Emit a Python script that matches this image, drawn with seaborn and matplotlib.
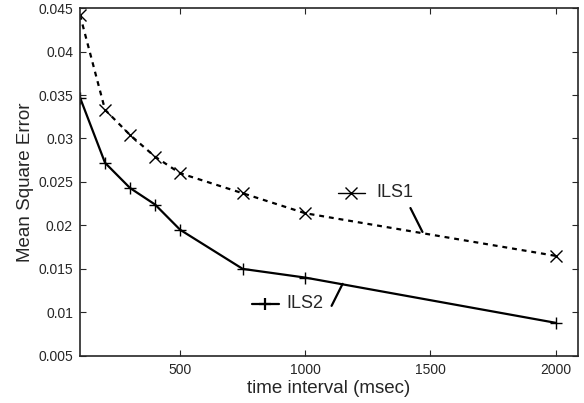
import matplotlib
matplotlib.use("Agg")
import matplotlib.pyplot as plt
import seaborn as sns
from matplotlib.lines import Line2D

# values
intervals = [100, 200, 300, 400, 500, 750, 1000, 2000]
ils1_mse = [0.0442, 0.0333, 0.0304, 0.0279, 0.0260, 0.0237, 0.0214, 0.0165]
ils2_mse = [0.0347, 0.0272, 0.0243, 0.0224, 0.0195, 0.0150, 0.0140, 0.0088]
x_ticks = [500, 1000, 1500, 2000]
y_ticks = [0.005, 0.01, 0.015, 0.02, 0.025, 0.03, 0.035, 0.04, 0.045]

sns.set_style('ticks')
plt.rcParams['font.family'] = ['Liberation Sans', 'DejaVu Sans']

fig = plt.figure(figsize=(5.84, 4.03), dpi=100)
ax = fig.add_axes([0.137, 0.117, 0.853, 0.863])

sns.lineplot(x=intervals, y=ils1_mse, ax=ax, color='k', linestyle=(0, (2.2, 2.2)),
             linewidth=1.6, marker='x', markersize=8, markeredgewidth=1.0,
             markeredgecolor='k')
sns.lineplot(x=intervals, y=ils2_mse, ax=ax, color='k', linestyle='-',
             linewidth=1.6, marker='+', markersize=9, markeredgewidth=1.0,
             markeredgecolor='k')

ax.set_xlim(100, 2090)
ax.set_ylim(0.005, 0.045)
ax.set_xticks(x_ticks)
ax.set_yticks(y_ticks)
ax.set_yticklabels(['%g' % v for v in y_ticks])
ax.tick_params(direction='in', length=4, width=0.8, top=True, right=True,
               labelsize=10, pad=5)
for s in ax.spines.values():
    s.set_linewidth(1.2)
    s.set_visible(True)

ax.set_xlabel('time interval (msec)', fontsize=13.5, labelpad=2)
ax.set_ylabel('Mean Square Error', fontsize=13.5, labelpad=3)

# MATLAB-style legend labels with pointer lines
ax.add_line(Line2D([1130, 1237], [0.02374, 0.02374], color='k', lw=1.0))
ax.plot([1183], [0.02374], 'kx', markersize=8, markeredgewidth=1.0)
ax.text(1285, 0.02374, 'ILS1', fontsize=13, va='center', ha='left')
ax.annotate('', xy=(1468, 0.01925), xytext=(1420, 0.0220),
            arrowprops=dict(arrowstyle='-', color='k', lw=1.6,
                            shrinkA=0, shrinkB=0))

ax.add_line(Line2D([787, 894], [0.0110, 0.0110], color='k', lw=1.6))
ax.plot([840], [0.0110], 'k+', markersize=9, markeredgewidth=1.6)
ax.text(925, 0.0110, 'ILS2', fontsize=13, va='center', ha='left')
ax.annotate('', xy=(1149, 0.01328), xytext=(1105, 0.01075),
            arrowprops=dict(arrowstyle='-', color='k', lw=1.6,
                            shrinkA=0, shrinkB=0))

fig.savefig('out.png', dpi=100)
